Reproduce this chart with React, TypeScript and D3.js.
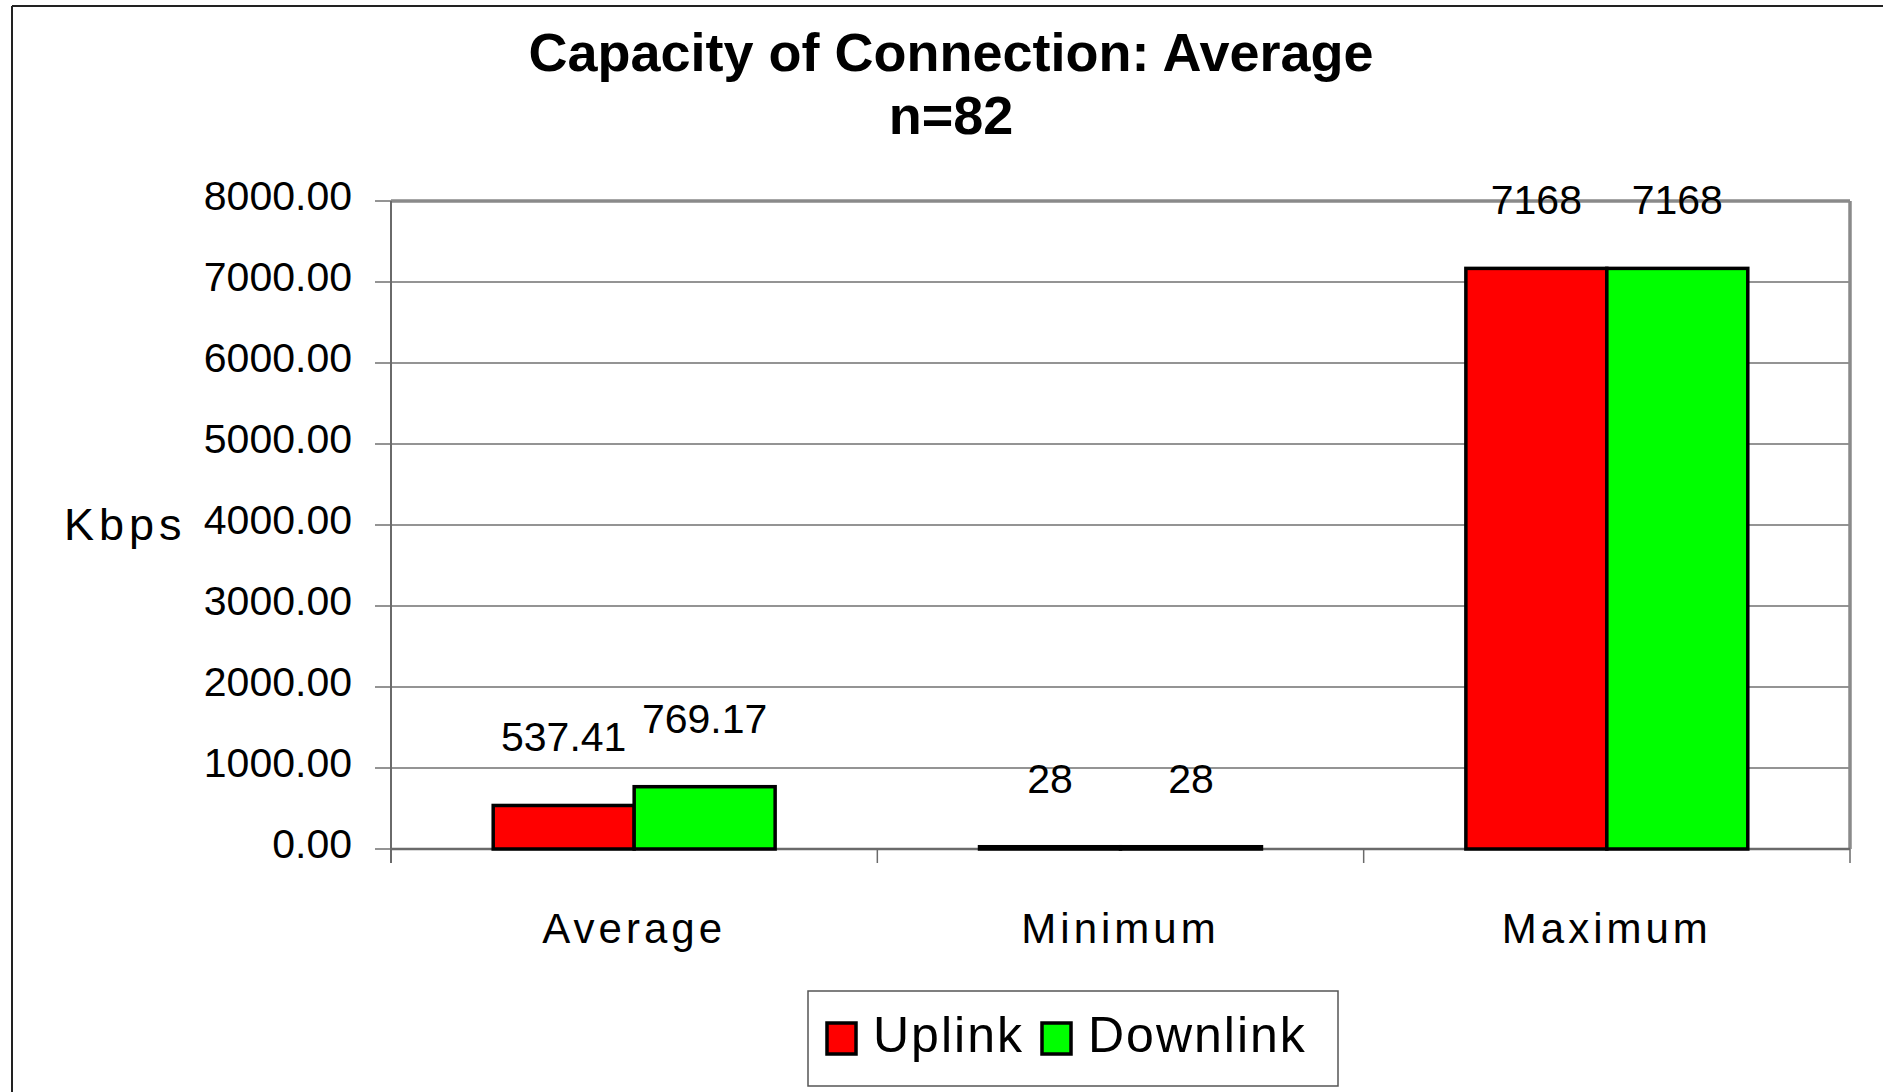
import React from "react";
import * as d3 from "d3";

const categories = ["Average", "Minimum", "Maximum"];
const seriesNames = ["Uplink", "Downlink"];
const uplink = [537.41, 28, 7168];
const downlink = [769.17, 28, 7168];
const valueLabels = [
  ["537.41", "28", "7168"],
  ["769.17", "28", "7168"],
];
const yTicks = [0, 1000, 2000, 3000, 4000, 5000, 6000, 7000, 8000];
const colors = ["#ff0000", "#00ff00"];

const W = 1883;
const H = 1092;
const FONT = "'Liberation Sans', Arial, sans-serif";

const App = () => {
  // plot area
  const left = 391;
  const right = 1850;
  const top = 201;
  const bottom = 849;

  const x = d3.scaleBand().domain(categories).range([left, right]).padding(0);
  // Excel gap width ~145% -> two bars take 2 / 3.45 of each band
  const gap = 1.45;
  const barW = x.bandwidth() / (2 + gap);
  const inner = d3
    .scaleBand()
    .domain(seriesNames)
    .range([(barW * gap) / 2, (barW * gap) / 2 + barW * 2])
    .padding(0);
  const y = d3.scaleLinear().domain([0, 8000]).range([bottom, top]);

  const series = [uplink, downlink];

  return (
    <svg
      width={W}
      height={H}
      style={{ display: "block", position: "absolute", left: 0, top: 0, background: "#fff" }}
      fontFamily={FONT}
    >
      <rect width={W} height={H} fill="#fff" />
      {/* outer frame (only top and left visible) */}
      <line x1={12} x2={W} y1={6} y2={6} stroke="#222" strokeWidth={2} />
      <line x1={12} x2={12} y1={6} y2={H} stroke="#222" strokeWidth={2} />

      {/* title */}
      <text x={951} y={71} textAnchor="middle" fontSize={54} fontWeight="bold">
        Capacity of Connection: Average
      </text>
      <text x={951} y={134} textAnchor="middle" fontSize={54} fontWeight="bold">
        n=82
      </text>

      {/* gridlines */}
      {yTicks.map((t) => (
        <line
          key={"g" + t}
          x1={left - 16}
          x2={right}
          y1={y(t)}
          y2={y(t)}
          stroke="#707070"
          strokeWidth={1.5}
        />
      ))}
      {/* plot frame: top and right gray */}
      <line x1={left} x2={right} y1={top} y2={top} stroke="#8a8a8a" strokeWidth={3.5} />
      <line x1={right} x2={right} y1={top} y2={bottom} stroke="#8a8a8a" strokeWidth={3.5} />
      {/* y axis */}
      <line x1={left} x2={left} y1={top} y2={bottom + 14} stroke="#6a6a6a" strokeWidth={2} />
      {/* x axis */}
      <line x1={left} x2={right} y1={bottom} y2={bottom} stroke="#6a6a6a" strokeWidth={2.5} />
      {categories.map((c) => (
        <line
          key={"xt" + c}
          x1={(x(c) as number) + x.bandwidth()}
          x2={(x(c) as number) + x.bandwidth()}
          y1={bottom}
          y2={bottom + 14}
          stroke="#6a6a6a"
          strokeWidth={1.5}
        />
      ))}

      {/* y tick labels */}
      {yTicks.map((t) => (
        <text
          key={"yl" + t}
          x={352}
          y={y(t)}
          dy="0.22em"
          textAnchor="end"
          fontSize={41}
        >
          {t.toFixed(2)}
        </text>
      ))}
      <text x={64} y={540} fontSize={45} letterSpacing={5}>
        Kbps
      </text>

      {/* bars */}
      {series.map((vals, si) =>
        categories.map((c, ci) => {
          const bx = (x(c) as number) + (inner(seriesNames[si]) as number);
          const by = y(vals[ci]);
          return (
            <g key={si + "-" + c}>
              <rect
                x={bx}
                y={by}
                width={inner.bandwidth()}
                height={Math.max(y(0) - by, 0.5)}
                fill={colors[si]}
                stroke="#000"
                strokeWidth={3.5}
              />
              <text
                x={bx + inner.bandwidth() / 2}
                y={by - 54}
                textAnchor="middle"
                fontSize={41}
              >
                {valueLabels[si][ci]}
              </text>
            </g>
          );
        })
      )}

      {/* category labels */}
      {categories.map((c) => (
        <text
          key={"cl" + c}
          x={(x(c) as number) + x.bandwidth() / 2}
          y={943}
          textAnchor="middle"
          fontSize={42}
          letterSpacing={4}
        >
          {c}
        </text>
      ))}

      {/* legend */}
      <rect x={808} y={991} width={530} height={95} fill="#fff" stroke="#555" strokeWidth={1.5} />
      {seriesNames.map((s, i) => {
        const sx = i === 0 ? 827 : 1042;
        return (
          <g key={"lg" + s}>
            <rect
              x={sx}
              y={1023}
              width={29}
              height={31}
              fill={colors[i]}
              stroke="#000"
              strokeWidth={3.5}
            />
            <text x={sx + 46} y={1052} fontSize={50} letterSpacing={2}>
              {s}
            </text>
          </g>
        );
      })}
    </svg>
  );
};

export default App;
